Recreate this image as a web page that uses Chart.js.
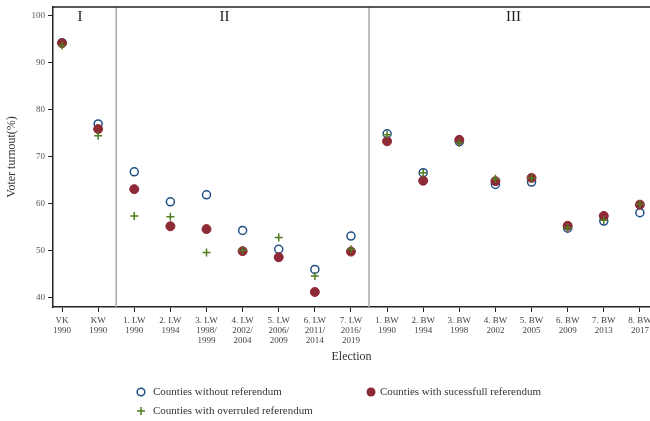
<!DOCTYPE html>
<html>
<head>
<meta charset="utf-8">
<script src="https://cdn.jsdelivr.net/npm/chart.js@4/dist/chart.umd.min.js"></script>
<style>
  body { margin: 0; background: #fff; }
  #wrap { position: relative; width: 650px; height: 421px; overflow: hidden; }
  .leg { position: absolute; font: 11px "Liberation Serif", serif; color: #333; white-space: nowrap; }
  .mk { position: absolute; }
</style>
</head>
<body>
<div id="wrap">
  <canvas id="chart" width="650" height="421"></canvas>
  <div id="legend"></div>
</div>
<script>
const elections = ["VK\n1990", "KW\n1990", "1. LW\n1990", "2. LW\n1994", "3. LW\n1998/\n1999", "4. LW\n2002/\n2004",
    "5. LW\n2006/\n2009", "6. LW\n2011/\n2014", "7. LW\n2016/\n2019", "1. BW\n1990", "2. BW\n1994", "3. BW\n1998",
    "4. BW\n2002", "5. BW\n2005", "6. BW\n2009", "7. BW\n2013", "8. BW\n2017"];
const withoutRef = [94.3, 77.0, 66.8, 60.4, 61.9, 54.3, 50.3, 46.0, 53.1, 74.9, 66.6, 73.2, 64.1, 64.6, 54.8, 56.3, 58.1];
const successRef = [94.2, 75.9, 63.1, 55.2, 54.6, 49.9, 48.6, 41.2, 49.8, 73.3, 64.9, 73.6, 64.8, 65.5, 55.3, 57.4, 59.8];
const overruledRef = [93.7, 74.5, 57.4, 57.2, 49.6, 50.1, 52.8, 44.6, 50.3, 74.7, 66.6, 73.0, 65.3, 65.5, 54.9, 56.5, 59.9];
const yTicks = [40, 50, 60, 70, 80, 90, 100];
const regions = [{ text: "I", at: 0.5 }, { text: "II", at: 4.5 }, { text: "III", at: 12.5 }];
const dividers = [1.5, 8.5];

const blue = "#1f4e85";
const red = "#8e2a36";
const green = "#4f7d1f";
const serif = "'Liberation Serif', serif";

function toPoints(arr) {
    return arr.map((v, i) => ({ x: i, y: v }));
}

const framePlugin = {
    id: "frame",
    beforeDatasetsDraw(chart) {
        const { ctx, chartArea: a, scales } = chart;
        ctx.save();
        ctx.strokeStyle = "#aaaaaa";
        ctx.lineWidth = 1.5;
        dividers.forEach(d => {
            const x = scales.x.getPixelForValue(d);
            ctx.beginPath();
            ctx.moveTo(x, a.top);
            ctx.lineTo(x, a.bottom);
            ctx.stroke();
        });
        ctx.strokeStyle = "#222";
        ctx.beginPath();
        ctx.moveTo(a.left, a.top);
        ctx.lineTo(a.right, a.top);
        ctx.stroke();
        ctx.fillStyle = "#222";
        ctx.font = "15px " + serif;
        ctx.textAlign = "center";
        ctx.textBaseline = "middle";
        regions.forEach(r => {
            ctx.fillText(r.text, scales.x.getPixelForValue(r.at), 17);
        });
        ctx.restore();
    }
};

new Chart(document.getElementById("chart"), {
    type: "scatter",
    data: {
        datasets: [
            {
                label: "Counties without referendum",
                data: toPoints(withoutRef),
                pointStyle: "circle",
                pointRadius: 4,
                borderColor: blue,
                borderWidth: 1.5,
                backgroundColor: "#fff",
                order: 3
            },
            {
                label: "Counties with sucessfull referendum",
                data: toPoints(successRef),
                pointStyle: "circle",
                pointRadius: 4.5,
                borderColor: red,
                borderWidth: 1,
                backgroundColor: red,
                order: 2
            },
            {
                label: "Counties with overruled referendum",
                data: toPoints(overruledRef),
                pointStyle: "cross",
                pointRadius: 4,
                borderColor: green,
                borderWidth: 1.5,
                backgroundColor: green,
                order: 1
            }
        ]
    },
    options: {
        responsive: false,
        animation: false,
        layout: { autoPadding: false, padding: { top: 7, right: 0, bottom: 54, left: 0 } },
        plugins: { legend: { display: false }, tooltip: { enabled: false } },
        scales: {
            x: {
                type: "linear",
                min: -0.25,
                max: 16.28,
                afterBuildTicks: s => { s.ticks = elections.map((_, i) => ({ value: i })); },
                afterFit: s => { s.height = 60; s.paddingLeft = 0; s.paddingRight = 0; },
                ticks: {
                    autoSkip: false,
                    maxRotation: 0,
                    padding: 3,
                    color: "#444",
                    font: { family: serif, size: 9, lineHeight: 1.15 },
                    callback: v => elections[v].split("\n")
                },
                grid: { drawOnChartArea: false, tickLength: 5, color: "#222", lineWidth: 1 },
                border: { color: "#222", width: 1.5 },
                title: {
                    display: true,
                    text: "Election",
                    color: "#333",
                    font: { family: serif, size: 12 },
                    padding: { top: 0, bottom: 3 }
                }
            },
            y: {
                min: 38,
                max: 101.9,
                afterBuildTicks: s => { s.ticks = yTicks.map(v => ({ value: v })); },
                afterFit: s => { s.width = 53; s.paddingTop = 0; s.paddingBottom = 0; },
                ticks: {
                    padding: 3,
                    color: "#555",
                    font: { family: serif, size: 9 }
                },
                grid: { drawOnChartArea: false, tickLength: 5, color: "#222", lineWidth: 1 },
                border: { color: "#222", width: 1.5 },
                title: {
                    display: true,
                    text: "Voter turnout(%)",
                    color: "#333",
                    font: { family: serif, size: 12 },
                    padding: { top: 5, bottom: 3 }
                }
            }
        }
    },
    plugins: [framePlugin]
});

// legend below the plot, two columns
const legendItems = [
    { text: "Counties without referendum", x: 141, y: 392, kind: "open" },
    { text: "Counties with sucessfull referendum", x: 371, y: 392, kind: "dot" },
    { text: "Counties with overruled referendum", x: 141, y: 411, kind: "plus" }
];
const legend = document.getElementById("legend");
legendItems.forEach(it => {
    const mk = document.createElement("canvas");
    mk.width = 14; mk.height = 14;
    mk.className = "mk";
    mk.style.left = (it.x - 7) + "px";
    mk.style.top = (it.y - 7) + "px";
    const c = mk.getContext("2d");
    if (it.kind === "open") {
        c.strokeStyle = blue; c.lineWidth = 1.5;
        c.beginPath(); c.arc(7, 7, 3.8, 0, Math.PI * 2); c.stroke();
    } else if (it.kind === "dot") {
        c.fillStyle = red;
        c.beginPath(); c.arc(7, 7, 4.5, 0, Math.PI * 2); c.fill();
    } else {
        c.strokeStyle = green; c.lineWidth = 1.5;
        c.beginPath(); c.moveTo(3, 7); c.lineTo(11, 7); c.moveTo(7, 3); c.lineTo(7, 11); c.stroke();
    }
    legend.appendChild(mk);
    const t = document.createElement("div");
    t.className = "leg";
    t.textContent = it.text;
    t.style.left = (it.x + (it.kind === "dot" ? 9 : 12)) + "px";
    t.style.top = (it.y - 7) + "px";
    legend.appendChild(t);
});
</script>
</body>
</html>
